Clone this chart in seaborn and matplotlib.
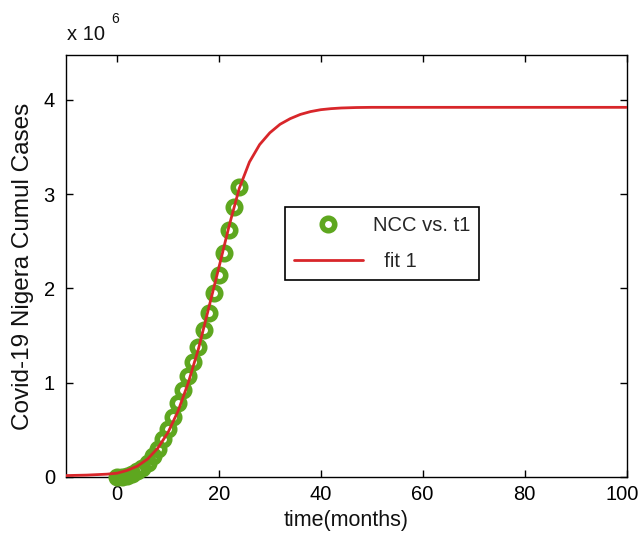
import matplotlib
matplotlib.use("Agg")
import matplotlib.pyplot as plt
import matplotlib.transforms as mtransforms
import seaborn as sns

# Observed cumulative cases (in millions) against time in months
t1 = [0, 1, 2, 3, 4, 5, 6, 7, 8, 9, 10, 11, 12, 13, 14, 15, 16, 17, 18, 19, 20, 21, 22, 23, 24]
ncc = [0.000, 0.005, 0.015, 0.030, 0.060, 0.100, 0.150, 0.220, 0.300, 0.400,
       0.510, 0.640, 0.780, 0.920, 1.070, 1.220, 1.380, 1.560, 1.740, 1.950,
       2.140, 2.380, 2.620, 2.860, 3.080]

# Fitted curve values (in millions)
fit_t = [-10, -6, -2, 0, 2, 4, 6, 8, 10, 12, 14, 16, 18, 20, 22, 24, 26, 28,
         30, 32, 34, 36, 38, 40, 42, 44, 47, 50, 60, 80, 100]
fit_y = [0.015, 0.020, 0.030, 0.040, 0.070, 0.115, 0.190, 0.305, 0.470, 0.700,
         1.000, 1.360, 1.790, 2.220, 2.660, 3.060, 3.340, 3.525, 3.650, 3.740,
         3.800, 3.845, 3.875, 3.895, 3.906, 3.913, 3.918, 3.920, 3.920, 3.920, 3.920]

x_ticks = [0, 20, 40, 60, 80, 100]
y_ticks = [0, 1, 2, 3, 4]

sns.set_theme(style="white")
plt.rcParams["font.family"] = ["Liberation Sans", "DejaVu Sans"]

fig = plt.figure(figsize=(6.41, 5.46), dpi=100)
ax = fig.add_axes([66 / 641, 1 - 477 / 546, (626.5 - 66) / 641, (477 - 55) / 546])

green = "#5ea71f"
red = "#d8262a"

sns.lineplot(x=t1, y=ncc, ax=ax, marker="o", linestyle="", markersize=9,
             markerfacecolor="none", markeredgecolor=green, markeredgewidth=4.0,
             color=green, label="NCC vs. t1", clip_on=False, zorder=3)
sns.lineplot(x=fit_t, y=fit_y, ax=ax, color=red, linewidth=2.0,
             label="  fit 1", zorder=4)

ax.set_xlim(-10, 100)
ax.set_ylim(0, 4.475)
ax.set_xticks(x_ticks)
ax.set_yticks(y_ticks)
ax.set_xticklabels([str(v) for v in x_ticks])
ax.set_yticklabels([str(v) for v in y_ticks])

for s in ax.spines.values():
    s.set_visible(True)
    s.set_color("black")
    s.set_linewidth(1.0)

ax.tick_params(direction="in", length=5, width=1.0, colors="black",
               top=True, right=True, bottom=True, left=True,
               labelsize=14.5, pad=6)
ax.tick_params(axis="y", pad=8)

# keep the last x tick label inside the canvas
last = ax.get_xticklabels()[-1]
last.set_transform(last.get_transform() +
                   mtransforms.ScaledTranslation(-4 / 100, 0, fig.dpi_scale_trans))

ax.set_xlabel("time(months)", fontsize=15.5, color="#111111", labelpad=4)
ax.set_ylabel("Covid-19 Nigera Cumul Cases", fontsize=17.5, color="#111111", labelpad=7)

# axis multiplier
ax.text(0.002, 1.027, "x 10", transform=ax.transAxes, fontsize=14.5,
        ha="left", va="bottom", color="#111111")
ax.text(0.080, 1.068, "6", transform=ax.transAxes, fontsize=10,
        ha="left", va="bottom", color="#111111")

handles, labels = ax.get_legend_handles_labels()
leg = ax.legend(handles, labels, loc="upper left",
                bbox_to_anchor=((285 - 66) / 560.5, (477 - 207) / 422),
                borderaxespad=0, frameon=True, fancybox=False, shadow=False,
                fontsize=14.5, handlelength=3.4, handletextpad=0.5,
                labelspacing=0.85, borderpad=0.45, edgecolor="black",
                framealpha=1)
leg.get_frame().set_linewidth(1.2)

fig.savefig("out.png", dpi=100, facecolor="white")
